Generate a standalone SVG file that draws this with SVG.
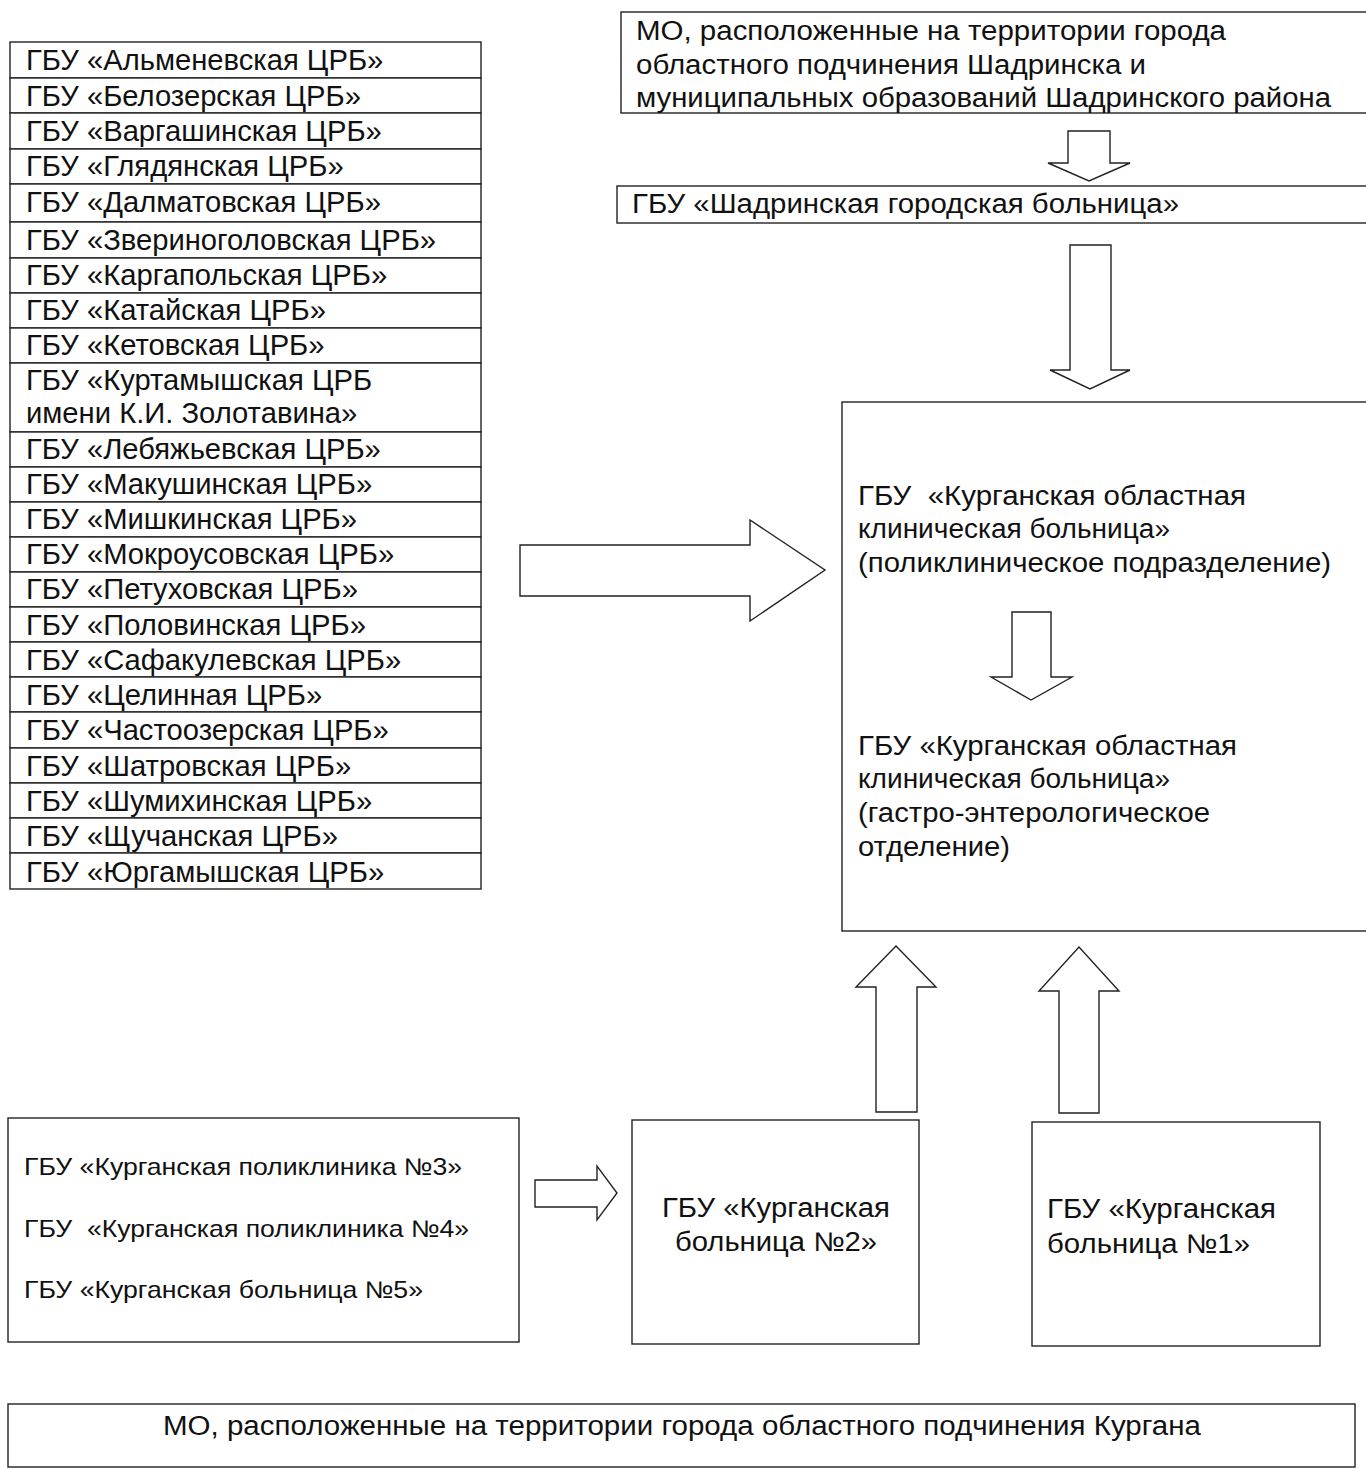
<svg xmlns="http://www.w3.org/2000/svg" width="1366" height="1469" viewBox="0 0 1366 1469">
<style>
.bx{fill:#fff;stroke:#222;stroke-width:1.4}
.ar{fill:#fff;stroke:#222;stroke-width:1.4;stroke-linejoin:miter}
.t{font-family:"Liberation Sans",Arial,sans-serif;font-size:29.2px;fill:#111}
.n{font-family:"Liberation Sans",Arial,sans-serif;font-size:27px;fill:#111}
.s{font-family:"Liberation Sans",Arial,sans-serif;font-size:24px;fill:#111}
</style>
<rect width="1366" height="1469" fill="#fff"/>

<g id="list">
<g id="r1"><rect class="bx" x="10" y="42" width="471" height="36"/><text class="t" x="26" y="70">ГБУ «Альменевская ЦРБ»</text></g>
<g id="r2"><rect class="bx" x="10" y="78" width="471" height="35"/><text class="t" x="26" y="106">ГБУ «Белозерская ЦРБ»</text></g>
<g id="r3"><rect class="bx" x="10" y="113" width="471" height="36"/><text class="t" x="26" y="141">ГБУ «Варгашинская ЦРБ»</text></g>
<g id="r4"><rect class="bx" x="10" y="149" width="471" height="35"/><text class="t" x="26" y="176">ГБУ «Глядянская ЦРБ»</text></g>
<g id="r5"><rect class="bx" x="10" y="184" width="471" height="38"/><text class="t" x="26" y="212">ГБУ «Далматовская ЦРБ»</text></g>
<g id="r6"><rect class="bx" x="10" y="222" width="471" height="36"/><text class="t" x="26" y="250">ГБУ «Звериноголовская ЦРБ»</text></g>
<g id="r7"><rect class="bx" x="10" y="258" width="471" height="35"/><text class="t" x="26" y="285">ГБУ «Каргапольская ЦРБ»</text></g>
<g id="r8"><rect class="bx" x="10" y="293" width="471" height="35"/><text class="t" x="26" y="320">ГБУ «Катайская ЦРБ»</text></g>
<g id="r9"><rect class="bx" x="10" y="328" width="471" height="35"/><text class="t" x="26" y="355">ГБУ «Кетовская ЦРБ»</text></g>
<g id="r10"><rect class="bx" x="10" y="363" width="471" height="69"/><text class="t" x="26" y="390">ГБУ «Куртамышская ЦРБ</text><text class="t" x="26" y="423">имени К.И. Золотавина»</text></g>
<g id="r11"><rect class="bx" x="10" y="432" width="471" height="35"/><text class="t" x="26" y="459">ГБУ «Лебяжьевская ЦРБ»</text></g>
<g id="r12"><rect class="bx" x="10" y="467" width="471" height="35"/><text class="t" x="26" y="494">ГБУ «Макушинская ЦРБ»</text></g>
<g id="r13"><rect class="bx" x="10" y="502" width="471" height="35"/><text class="t" x="26" y="529">ГБУ «Мишкинская ЦРБ»</text></g>
<g id="r14"><rect class="bx" x="10" y="537" width="471" height="35"/><text class="t" x="26" y="564">ГБУ «Мокроусовская ЦРБ»</text></g>
<g id="r15"><rect class="bx" x="10" y="572" width="471" height="35"/><text class="t" x="26" y="599">ГБУ «Петуховская ЦРБ»</text></g>
<g id="r16"><rect class="bx" x="10" y="607" width="471" height="35"/><text class="t" x="26" y="635">ГБУ «Половинская ЦРБ»</text></g>
<g id="r17"><rect class="bx" x="10" y="642" width="471" height="35"/><text class="t" x="26" y="670">ГБУ «Сафакулевская ЦРБ»</text></g>
<g id="r18"><rect class="bx" x="10" y="677" width="471" height="35"/><text class="t" x="26" y="705">ГБУ «Целинная ЦРБ»</text></g>
<g id="r19"><rect class="bx" x="10" y="712" width="471" height="36"/><text class="t" x="26" y="740">ГБУ «Частоозерская ЦРБ»</text></g>
<g id="r20"><rect class="bx" x="10" y="748" width="471" height="35"/><text class="t" x="26" y="776">ГБУ «Шатровская ЦРБ»</text></g>
<g id="r21"><rect class="bx" x="10" y="783" width="471" height="35"/><text class="t" x="26" y="811">ГБУ «Шумихинская ЦРБ»</text></g>
<g id="r22"><rect class="bx" x="10" y="818" width="471" height="35"/><text class="t" x="26" y="846">ГБУ «Щучанская ЦРБ»</text></g>
<g id="r23"><rect class="bx" x="10" y="853" width="471" height="36"/><text class="t" x="26" y="882">ГБУ «Юргамышская ЦРБ»</text></g>
</g>

<g id="mo-shadrinsk">
<rect class="bx" x="621" y="12" width="760" height="101"/>
<text class="n" x="636" y="40" textLength="590" lengthAdjust="spacingAndGlyphs">МО, расположенные на территории города</text>
<text class="n" x="636" y="74" textLength="510" lengthAdjust="spacingAndGlyphs">областного подчинения Шадринска и</text>
<text class="n" x="636" y="107" textLength="695" lengthAdjust="spacingAndGlyphs">муниципальных образований Шадринского района</text>
</g>

<g id="shadrinsk-hospital">
<rect class="bx" x="617" y="186" width="764" height="37"/>
<text class="n" x="632" y="213" textLength="547" lengthAdjust="spacingAndGlyphs">ГБУ «Шадринская городская больница»</text>
</g>

<g id="kokb">
<rect class="bx" x="842" y="402" width="539" height="529"/>
<text class="n" x="858" y="505" textLength="388" lengthAdjust="spacingAndGlyphs" xml:space="preserve">ГБУ  «Курганская областная</text>
<text class="n" x="858" y="538" textLength="312" lengthAdjust="spacingAndGlyphs">клиническая больница»</text>
<text class="n" x="858" y="572" textLength="473" lengthAdjust="spacingAndGlyphs">(поликлиническое подразделение)</text>
<text class="n" x="858" y="755" textLength="379" lengthAdjust="spacingAndGlyphs">ГБУ «Курганская областная</text>
<text class="n" x="858" y="788" textLength="312" lengthAdjust="spacingAndGlyphs">клиническая больница»</text>
<text class="n" x="858" y="822" textLength="352" lengthAdjust="spacingAndGlyphs">(гастро-энтерологическое</text>
<text class="n" x="858" y="856" textLength="152" lengthAdjust="spacingAndGlyphs">отделение)</text>
</g>

<g id="poly345">
<rect class="bx" x="8" y="1118" width="511" height="224"/>
<text class="s" x="24" y="1175" textLength="438" lengthAdjust="spacingAndGlyphs">ГБУ «Курганская поликлиника №3»</text>
<text class="s" x="24" y="1237" textLength="445" lengthAdjust="spacingAndGlyphs" xml:space="preserve">ГБУ  «Курганская поликлиника №4»</text>
<text class="s" x="24" y="1298" textLength="399" lengthAdjust="spacingAndGlyphs">ГБУ «Курганская больница №5»</text>
</g>

<g id="kb2">
<rect class="bx" x="632" y="1120" width="287" height="224"/>
<text class="n" x="662" y="1217" textLength="228" lengthAdjust="spacingAndGlyphs">ГБУ «Курганская</text>
<text class="n" x="675" y="1251" textLength="202" lengthAdjust="spacingAndGlyphs">больница №2»</text>
</g>

<g id="kb1">
<rect class="bx" x="1032" y="1122" width="288" height="224"/>
<text class="n" x="1047" y="1218" textLength="229" lengthAdjust="spacingAndGlyphs">ГБУ «Курганская</text>
<text class="n" x="1047" y="1253" textLength="203" lengthAdjust="spacingAndGlyphs">больница №1»</text>
</g>

<g id="mo-kurgan">
<rect class="bx" x="8" y="1404" width="1347" height="63"/>
<text class="n" x="163" y="1435" textLength="1038" lengthAdjust="spacingAndGlyphs">МО, расположенные на территории города областного подчинения Кургана</text>
</g>

<g id="connectors">
<polygon class="ar" points="1068,131 1110,131 1110,163 1130,163 1089,181 1048,163 1068,163"/>
<polygon class="ar" points="1070,245 1111,245 1111,370 1130,370 1090,389 1050,370 1070,370"/>
<polygon class="ar" points="1012,612 1051,612 1051,677 1072,677 1031,700 991,677 1012,677"/>
<polygon class="ar" points="520,545 750,545 750,520 825,570 750,621 750,596 520,596"/>
<polygon class="ar" points="876,1112 917,1112 917,987 936,987 896,946 856,987 876,987"/>
<polygon class="ar" points="1059,1113 1099,1113 1099,991 1119,991 1079,947 1039,991 1059,991"/>
<polygon class="ar" points="535,1180 597,1180 597,1166 617,1193 597,1220 597,1207 535,1207"/>
</g>
</svg>
